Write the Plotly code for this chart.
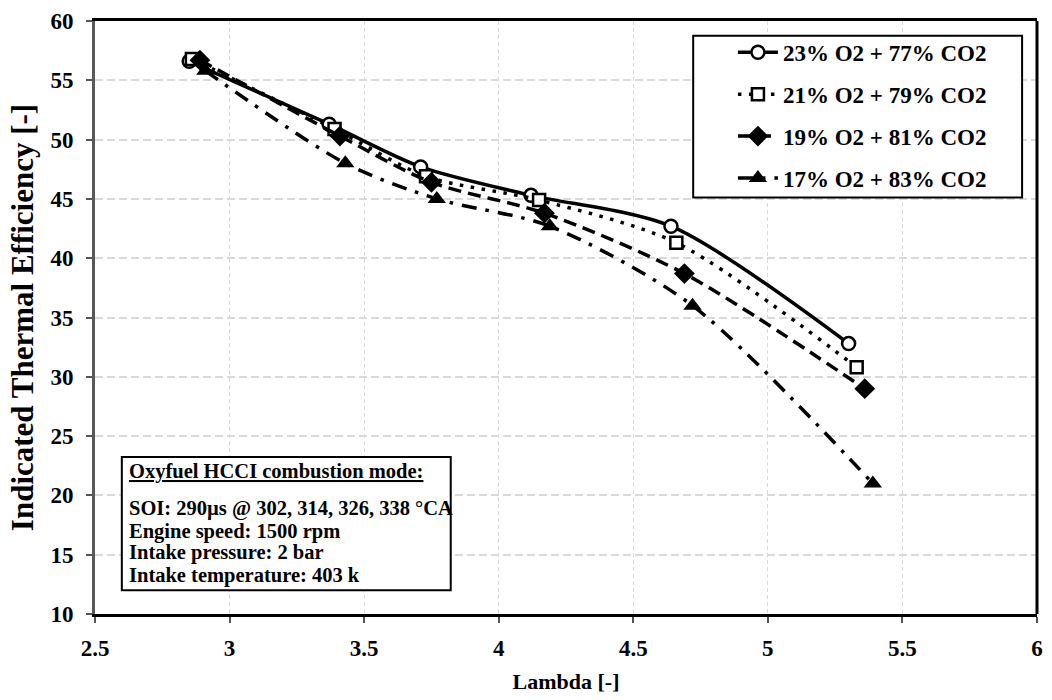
import plotly.graph_objects as go

# ---- data ----
names = ["23% O2 + 77% CO2", "21% O2 + 79% CO2", "19% O2 + 81% CO2", "17% O2 + 83% CO2"]
lam_23 = [2.85, 3.37, 3.71, 4.12, 4.64, 5.30]
ite_23 = [56.6, 51.3, 47.7, 45.3, 42.7, 32.8]
lam_21 = [2.86, 3.39, 3.73, 4.15, 4.66, 5.33]
ite_21 = [56.8, 50.9, 46.9, 44.9, 41.3, 30.8]
lam_19 = [2.89, 3.41, 3.75, 4.17, 4.69, 5.36]
ite_19 = [56.7, 50.3, 46.4, 43.8, 38.7, 29.0]
lam_17 = [2.91, 3.43, 3.77, 4.19, 4.72, 5.39]
ite_17 = [55.8, 48.0, 45.0, 42.7, 36.0, 21.0]

x_ticks = [2.5, 3, 3.5, 4, 4.5, 5, 5.5, 6]
y_ticks = [10, 15, 20, 25, 30, 35, 40, 45, 50, 55, 60]

box_title = "Oxyfuel HCCI combustion mode:"
box_lines = ["SOI: 290µs @ 302, 314, 326, 338 °CA",
             "Engine speed: 1500 rpm",
             "Intake pressure: 2 bar",
             "Intake temperature: 403 k"]

FONT = "Liberation Serif"
W, H = 1052, 700
ML, MR, MT, MB = 95, 9, 19, 80
PW, PH = W - ML - MR, H - MT - MB


def px_x(px):
    return (px - ML) / PW


def px_y(py):
    return (H - MB - py) / PH


series = [
    (lam_23, ite_23, "solid", dict(symbol="circle", size=13, color="white", line=dict(color="black", width=2.5))),
    (lam_21, ite_21, "3.5px,7.5px", dict(symbol="square", size=12, color="white", line=dict(color="black", width=2.5))),
    (lam_19, ite_19, "13px,7px", dict(symbol="diamond", size=16, color="black", line=dict(color="black", width=0))),
    (lam_17, ite_17, "15px,9px,3.5px,9px", dict(symbol="triangle-up", size=16, color="black", line=dict(color="black", width=0))),
]

fig = go.Figure()
for i, (xs, ys, dash, mk) in enumerate(series):
    fig.add_trace(go.Scatter(
        x=xs, y=ys, name=names[i], mode="lines+markers",
        line=dict(color="black", width=3.5, dash=dash, shape="spline", smoothing=0.8),
        marker=mk, legendgroup=f"g{i}",
    ))

fig.update_layout(
    width=W, height=H,
    margin=dict(l=ML, r=MR, t=MT, b=MB, pad=0),
    paper_bgcolor="white", plot_bgcolor="white",
    font=dict(family=FONT, color="black"),
    showlegend=True,
    legend=dict(
        x=px_x(737), y=px_y(29), xanchor="left", yanchor="top",
        bgcolor="rgba(0,0,0,0)", borderwidth=0,
        font=dict(family=FONT, size=23, color="black", weight="bold"),
        tracegroupgap=9, itemwidth=40, traceorder="grouped",
    ),
    xaxis=dict(
        range=[2.5, 6], tickvals=x_ticks, ticktext=[f"{v:g}" for v in x_ticks],
        showline=True, linecolor="black", linewidth=3, mirror=True,
        showgrid=True, gridcolor="#dadada", gridwidth=1.2, griddash="4px,3px",
        ticks="outside", ticklen=6, tickcolor="#555555", tickwidth=1.5,
        tickfont=dict(family=FONT, size=23, color="black", weight="bold"),
        ticklabelstandoff=5, zeroline=False,
        title=dict(text="Lambda [-]", font=dict(family=FONT, size=22, color="black", weight="bold"), standoff=15),
    ),
    yaxis=dict(
        range=[10, 60], tickvals=y_ticks,
        showline=True, linecolor="#595959", linewidth=3, mirror=False,
        showgrid=True, gridcolor="#dadada", gridwidth=2, griddash="8px,4px",
        ticks="outside", ticklen=6, tickcolor="#555555", tickwidth=1.5,
        tickfont=dict(family=FONT, size=23, color="black", weight="bold"),
        ticklabelstandoff=8, zeroline=False,
        title=dict(text="Indicated Thermal Efficiency [-]", font=dict(family=FONT, size=31, color="black", weight="bold"), standoff=8),
    ),
)

# right frame line
fig.add_shape(type="line", xref="paper", yref="paper", x0=1, x1=1, y0=0, y1=1,
              line=dict(color="black", width=3), layer="above")
# legend box
fig.add_shape(type="rect", xref="paper", yref="paper",
              x0=px_x(697), x1=px_x(1028), y0=px_y(198), y1=px_y(34),
              line=dict(color="black", width=2), fillcolor="white", layer="above")
# info box
fig.add_shape(type="rect", xref="paper", yref="paper",
              x0=px_x(122), x1=px_x(453), y0=px_y(596), y1=px_y(461),
              line=dict(color="black", width=2), fillcolor="white", layer="above")

fig.add_annotation(xref="paper", yref="paper", x=px_x(127), y=px_y(476),
                   xanchor="left", yanchor="middle", showarrow=False,
                   text=f"<u>{box_title}</u>",
                   font=dict(family=FONT, size=20.5, color="black", weight="bold"))
line_y = [513, 536, 558, 581]
for t, yy in zip(box_lines, line_y):
    fig.add_annotation(xref="paper", yref="paper", x=px_x(127), y=px_y(yy),
                       xanchor="left", yanchor="middle", showarrow=False, text=t,
                       font=dict(family=FONT, size=20.5, color="black", weight="bold"))

fig.write_html("out.html")
